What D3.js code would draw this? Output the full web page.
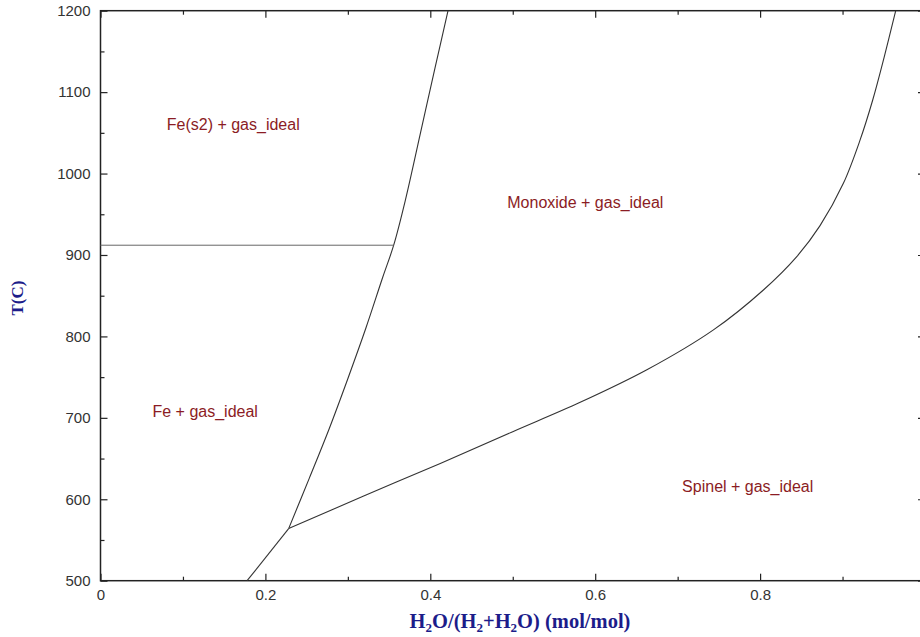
<!DOCTYPE html>
<html>
<head>
<meta charset="utf-8">
<script src="https://cdn.jsdelivr.net/npm/d3@7"></script>
<style>
  body { margin: 0; background: #fff; }
  svg { display: block; }
</style>
</head>
<body>
<svg id="chart"></svg>
<script>
// phase boundaries: [x fraction, T in C]
var feMonoxide = [[0.2282, 564], [0.2533, 626], [0.2775, 687], [0.3003, 749], [0.3218, 810],
  [0.3421, 872], [0.3556, 912], [0.3697, 967], [0.3879, 1049], [0.406, 1131], [0.4215, 1200]];
var monoxideSpinel = [[0.2282, 564], [0.3192, 604], [0.4121, 644], [0.5, 683], [0.5818, 719],
  [0.6627, 759], [0.7434, 808], [0.804, 857], [0.8445, 898], [0.8727, 936], [0.901, 988],
  [0.9212, 1041], [0.9365, 1090], [0.9505, 1143], [0.9645, 1200]];
var feSpinel = [[0.1778, 500], [0.2282, 564]];
var alphaGamma = [[0, 912], [0.3556, 912]];

var regionLabels = ["Fe(s2) + gas_ideal", "Monoxide + gas_ideal", "Fe + gas_ideal", "Spinel + gas_ideal"];
var regionX = [0.161, 0.588, 0.127, 0.785];
var regionT = [1060, 964, 708, 616];

var xTicks = [0, 0.2, 0.4, 0.6, 0.8, 1];
var xMinor = [0.1, 0.3, 0.5, 0.7, 0.9];
var yTicks = [500, 600, 700, 800, 900, 1000, 1100, 1200];
var yMinor = [550, 650, 750, 850, 950, 1050, 1150];

var svgWidth = 920, svgHeight = 637;
var svg = d3.select("#chart").attr("width", svgWidth).attr("height", svgHeight);

var plotLeft = 100.5, plotRight = 925, plotTop = 10.7, plotBottom = 580.7;

var x = d3.scaleLinear().domain([0, 1]).range([plotLeft, plotRight]);
var y = d3.scaleLinear().domain([500, 1200]).range([plotBottom, plotTop]);

var tickColor = "#222";

// bottom axis (ticks inward)
var gx = svg.append("g").attr("transform", "translate(0," + plotBottom + ")")
  .call(d3.axisBottom(x).tickValues(xTicks).tickSizeInner(-7).tickSizeOuter(0).tickPadding(9)
    .tickFormat(function(d) { return d === 0 ? "0" : d === 1 ? "" : d3.format(".1f")(d); }));
gx.append("g").call(d3.axisBottom(x).tickValues(xMinor).tickSize(-4).tickFormat(""));

// top axis
var gt = svg.append("g").attr("transform", "translate(0," + plotTop + ")")
  .call(d3.axisTop(x).tickValues(xTicks).tickSize(-7).tickFormat(""));
gt.append("g").call(d3.axisTop(x).tickValues(xMinor).tickSize(-4).tickFormat(""));

// left axis
var gy = svg.append("g").attr("transform", "translate(" + plotLeft + ",0)")
  .call(d3.axisLeft(y).tickValues(yTicks).tickSizeInner(-7).tickSizeOuter(0).tickPadding(10)
    .tickFormat(d3.format("d")));
gy.append("g").call(d3.axisLeft(y).tickValues(yMinor).tickSize(-4).tickFormat(""));

// right axis
var gr = svg.append("g").attr("transform", "translate(" + plotRight + ",0)")
  .call(d3.axisRight(y).tickValues(yTicks).tickSize(-7).tickFormat(""));
gr.append("g").call(d3.axisRight(y).tickValues(yMinor).tickSize(-4).tickFormat(""));

svg.selectAll(".domain").remove();
svg.selectAll(".tick line").attr("stroke", tickColor).attr("stroke-width", 1.2);
svg.selectAll(".tick text")
  .attr("font-family", "'Liberation Sans', Arial, sans-serif")
  .attr("font-size", 15)
  .attr("fill", "#333");

// frame
svg.append("rect")
  .attr("x", plotLeft).attr("y", plotTop)
  .attr("width", plotRight - plotLeft).attr("height", plotBottom - plotTop)
  .attr("fill", "none").attr("stroke", tickColor).attr("stroke-width", 1.5);

var line = d3.line()
  .x(function(d) { return x(d[0]); })
  .y(function(d) { return y(d[1]); });
var smooth = d3.line()
  .x(function(d) { return x(d[0]); })
  .y(function(d) { return y(d[1]); })
  .curve(d3.curveCatmullRom.alpha(0.5));

svg.append("path").datum(feMonoxide).attr("d", smooth)
  .attr("fill", "none").attr("stroke", "#333").attr("stroke-width", 1.1);
svg.append("path").datum(monoxideSpinel).attr("d", smooth)
  .attr("fill", "none").attr("stroke", "#333").attr("stroke-width", 1.1);
svg.append("path").datum(feSpinel).attr("d", line)
  .attr("fill", "none").attr("stroke", "#333").attr("stroke-width", 1.1);
svg.append("path").datum(alphaGamma).attr("d", line)
  .attr("fill", "none").attr("stroke", "#666").attr("stroke-width", 1);

// region names
svg.append("g").selectAll("text")
  .data(regionLabels)
  .enter().append("text")
  .attr("x", function(d, i) { return x(regionX[i]); })
  .attr("y", function(d, i) { return y(regionT[i]); })
  .attr("text-anchor", "middle")
  .attr("dy", "0.35em")
  .attr("font-family", "'Liberation Sans', Arial, sans-serif")
  .attr("font-size", 16)
  .attr("fill", "#8b1c24")
  .text(function(d) { return d; });

// axis titles
var titleColor = "#1c1c8a";
svg.append("text")
  .attr("transform", "translate(23,298) rotate(-90)")
  .attr("text-anchor", "middle")
  .attr("font-family", "'Liberation Serif', 'Times New Roman', serif")
  .attr("font-weight", "bold")
  .attr("font-size", 17)
  .attr("fill", titleColor)
  .text("T(C)");

var xt = svg.append("text")
  .attr("x", 520).attr("y", 628)
  .attr("text-anchor", "middle")
  .attr("font-family", "'Liberation Serif', 'Times New Roman', serif")
  .attr("font-weight", "bold")
  .attr("font-size", 20.5)
  .attr("fill", titleColor);
var parts = [["H", 0], ["2", 1], ["O/(H", 0], ["2", 1], ["+H", 0], ["2", 1], ["O) (mol/mol)", 0]];
parts.forEach(function(p, i) {
  var t = xt.append("tspan").text(p[0]);
  if (p[1]) t.attr("font-size", 13).attr("dy", 4);
  else if (i > 0) t.attr("dy", -4);
});
</script>
</body>
</html>
